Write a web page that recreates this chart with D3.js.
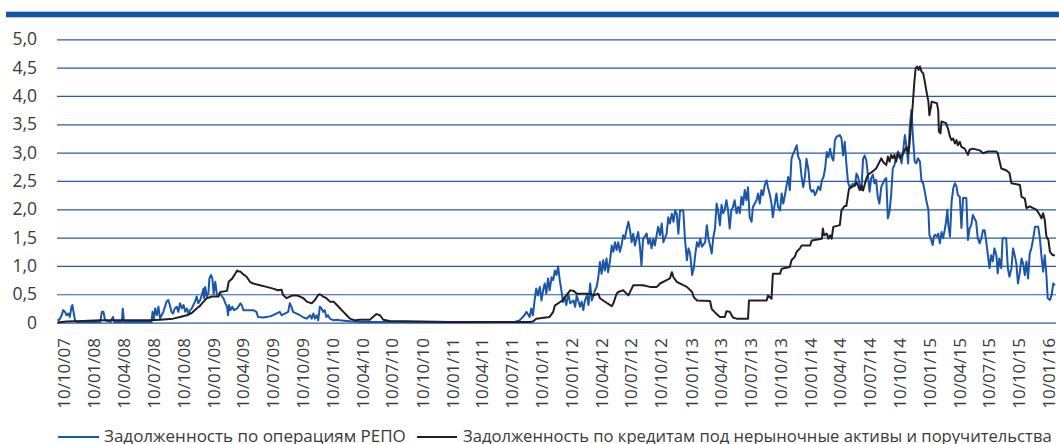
<!DOCTYPE html>
<html><head><meta charset="utf-8">
<script src="https://cdn.jsdelivr.net/npm/d3@7"></script>
<style>
body{margin:0;background:#fff}
svg{display:block}
text{font-family:"Open Sans",sans-serif;fill:#3a3a3a}
</style>
</head><body>
<svg id="chart" width="1059" height="444"></svg>
<script>
const xTickLabels = ["10/10/07","10/01/08","10/04/08","10/07/08","10/10/08","10/01/09","10/04/09","10/07/09","10/10/09","10/01/10","10/04/10","10/07/10","10/10/10","10/01/11","10/04/11","10/07/11","10/10/11","10/01/12","10/04/12","10/07/12","10/10/12","10/01/13","10/04/13","10/07/13","10/10/13","10/01/14","10/04/14","10/07/14","10/10/14","10/01/15","10/04/15","10/07/15","10/10/15","10/01/16"];
const yTickValues = [0,0.5,1,1.5,2,2.5,3,3.5,4,4.5,5];
const yTickLabels = ["0","0,5","1,0","1,5","2,0","2,5","3,0","3,5","4,0","4,5","5,0"];
const legendLabels = ["Задолженность по операциям РЕПО","Задолженность по кредитам под нерыночные активы и поручительства"];

const repoSeries = [["2007-09-26",0.04],["2007-10-02",0.05],["2007-10-09",0.13],["2007-10-14",0.22],["2007-10-19",0.19],["2007-10-24",0.13],["2007-10-29",0.16],["2007-11-03",0.10],["2007-11-08",0.28],["2007-11-11",0.31],["2007-11-15",0.16],["2007-11-19",0.04],["2007-11-24",0.01],
["2008-02-04",0.01],["2008-02-09",0.19],["2008-02-14",0.19],["2008-02-19",0.04],["2008-03-06",0.01],["2008-03-14",0.10],["2008-03-18",0.01],["2008-04-10",0.01],["2008-04-13",0.25],["2008-04-17",0.01],["2008-07-10",0.01],["2008-07-13",0.19],["2008-07-17",0.07],["2008-07-21",0.25],["2008-07-26",0.13],["2008-07-31",0.28],["2008-08-05",0.07],["2008-08-10",0.13],["2008-08-15",0.19],["2008-08-20",0.28],["2008-08-25",0.37],["2008-08-30",0.40],["2008-09-04",0.31],["2008-09-09",0.19],["2008-09-14",0.16],["2008-09-19",0.25],["2008-09-25",0.28],["2008-09-30",0.19],["2008-10-05",0.34],["2008-10-11",0.25],["2008-10-16",0.31],["2008-10-21",0.19],["2008-10-26",0.25],["2008-10-31",0.16],["2008-11-05",0.22],["2008-11-10",0.25],["2008-11-15",0.31],["2008-11-20",0.37],["2008-11-25",0.46],["2008-11-30",0.34],["2008-12-06",0.40],["2008-12-11",0.49],["2008-12-16",0.60],["2008-12-18",0.43],["2008-12-21",0.63],["2008-12-26",0.46],["2008-12-31",0.52],["2009-01-03",0.78],["2009-01-08",0.84],["2009-01-12",0.78],["2009-01-16",0.51],["2009-01-21",0.72],["2009-01-26",0.49],["2009-02-05",0.51],["2009-02-11",0.46],["2009-02-15",0.43],["2009-02-21",0.34],["2009-02-26",0.28],["2009-03-01",0.13],["2009-03-04",0.31],["2009-03-08",0.22],["2009-03-14",0.28],["2009-03-19",0.22],["2009-03-29",0.25],["2009-04-08",0.34],["2009-04-12",0.31],["2009-04-17",0.22],["2009-04-27",0.22],["2009-05-07",0.22],["2009-05-17",0.22],["2009-05-27",0.19],["2009-06-01",0.10],["2009-06-17",0.09],["2009-06-27",0.10],["2009-07-07",0.11],["2009-07-17",0.13],["2009-07-27",0.16],["2009-08-06",0.19],["2009-08-12",0.13],["2009-08-22",0.16],["2009-09-01",0.19],["2009-09-06",0.34],["2009-09-11",0.28],["2009-09-16",0.19],["2009-09-27",0.16],["2009-10-07",0.13],["2009-10-18",0.09],["2009-10-28",0.07],["2009-11-07",0.13],["2009-11-12",0.07],["2009-11-17",0.16],["2009-11-22",0.07],["2009-11-27",0.13],["2009-12-02",0.04],["2009-12-07",0.28],["2009-12-12",0.25],["2009-12-17",0.19],["2009-12-22",0.22],["2009-12-27",0.10],["2010-01-01",0.13],["2010-01-07",0.07],["2010-01-18",0.04],["2010-01-28",0.05],["2010-02-07",0.04],["2010-02-27",0.03],["2010-03-19",0.02],["2010-04-09",0.01],["2010-08-08",0.01],["2011-01-10",0.005],["2011-06-10",0.01],["2011-07-26",0.01],["2011-08-10",0.04],["2011-08-25",0.13],["2011-08-31",0.19],["2011-09-10",0.10],["2011-09-15",0.25],["2011-09-20",0.13],["2011-09-25",0.39],["2011-09-30",0.60],["2011-10-05",0.48],["2011-10-11",0.63],["2011-10-16",0.39],["2011-10-21",0.57],["2011-10-26",0.69],["2011-10-31",0.51],["2011-11-05",0.78],["2011-11-10",0.57],["2011-11-16",0.80],["2011-11-21",0.75],["2011-11-26",0.92],["2011-12-01",0.84],["2011-12-06",0.99],["2011-12-11",0.75],["2011-12-16",0.57],["2011-12-21",0.36],["2011-12-26",0.45],["2011-12-31",0.31],["2012-01-06",0.51],["2012-01-12",0.34],["2012-01-22",0.39],["2012-01-27",0.28],["2012-02-01",0.48],["2012-02-11",0.28],["2012-02-16",0.37],["2012-02-21",0.22],["2012-02-26",0.39],["2012-03-03",0.48],["2012-03-08",0.31],["2012-03-13",0.69],["2012-03-18",0.39],["2012-03-23",0.48],["2012-03-28",0.57],["2012-04-02",0.63],["2012-04-07",0.80],["2012-04-12",1.07],["2012-04-17",0.86],["2012-04-22",1.10],["2012-04-27",0.92],["2012-05-02",1.13],["2012-05-07",0.89],["2012-05-13",1.10],["2012-05-18",1.36],["2012-05-23",1.25],["2012-05-28",1.42],["2012-06-02",1.28],["2012-06-07",1.42],["2012-06-12",1.25],["2012-06-17",1.36],["2012-06-22",1.54],["2012-06-27",1.48],["2012-07-02",1.63],["2012-07-08",1.78],["2012-07-13",1.63],["2012-07-18",1.42],["2012-07-23",1.57],["2012-07-28",1.36],["2012-08-02",1.48],["2012-08-07",1.60],["2012-08-12",1.36],["2012-08-17",1.01],["2012-08-22",1.48],["2012-09-02",1.57],["2012-09-07",1.39],["2012-09-12",1.48],["2012-09-17",1.31],["2012-09-22",1.48],["2012-09-27",1.36],["2012-10-07",1.69],["2012-10-13",1.54],["2012-10-18",1.75],["2012-10-23",1.42],["2012-11-02",1.57],["2012-11-07",1.86],["2012-11-12",1.75],["2012-11-18",1.92],["2012-11-23",1.78],["2012-11-28",1.98],["2012-12-03",1.92],["2012-12-08",1.57],["2012-12-13",1.98],["2012-12-23",1.98],["2012-12-28",1.48],["2013-01-03",1.10],["2013-01-08",1.31],["2013-01-13",1.22],["2013-01-19",0.84],["2013-01-24",0.96],["2013-01-29",1.22],["2013-02-03",1.42],["2013-02-08",1.34],["2013-02-13",1.48],["2013-02-18",1.34],["2013-02-28",1.42],["2013-03-05",1.72],["2013-03-10",1.48],["2013-03-15",1.36],["2013-03-20",1.22],["2013-03-25",1.51],["2013-03-30",1.66],["2013-04-04",2.10],["2013-04-09",1.96],["2013-04-14",1.72],["2013-04-19",2.08],["2013-04-24",1.93],["2013-04-29",2.00],["2013-05-04",2.16],["2013-05-09",1.98],["2013-05-14",1.66],["2013-05-19",1.98],["2013-05-24",2.04],["2013-05-29",2.16],["2013-06-04",1.93],["2013-06-09",2.04],["2013-06-14",1.93],["2013-06-19",2.22],["2013-06-24",2.08],["2013-06-29",2.34],["2013-07-04",2.16],["2013-07-09",2.39],["2013-07-14",1.86],["2013-07-20",1.78],["2013-07-24",2.04],["2013-08-04",2.16],["2013-08-09",2.28],["2013-08-14",2.10],["2013-08-19",2.34],["2013-08-24",2.25],["2013-08-29",2.42],["2013-09-04",2.51],["2013-09-08",2.39],["2013-09-13",2.28],["2013-09-19",2.10],["2013-09-23",1.86],["2013-09-29",2.10],["2013-10-04",2.28],["2013-10-09",2.04],["2013-10-15",1.98],["2013-10-20",2.28],["2013-10-25",2.10],["2013-10-30",2.25],["2013-11-04",2.42],["2013-11-09",2.57],["2013-11-14",2.34],["2013-11-19",2.89],["2013-11-24",2.98],["2013-11-29",3.04],["2013-12-05",3.13],["2013-12-10",2.92],["2013-12-15",2.86],["2013-12-20",2.57],["2013-12-25",2.39],["2013-12-30",2.57],["2014-01-04",2.89],["2014-01-10",2.69],["2014-01-15",2.37],["2014-01-20",2.31],["2014-01-25",2.34],["2014-01-30",2.25],["2014-02-04",2.31],["2014-02-09",2.40],["2014-02-15",2.34],["2014-02-20",2.51],["2014-02-25",2.57],["2014-03-02",2.72],["2014-03-07",3.01],["2014-03-12",2.92],["2014-03-17",3.07],["2014-03-22",2.92],["2014-03-27",2.86],["2014-04-01",3.22],["2014-04-06",3.28],["2014-04-16",3.31],["2014-04-21",3.25],["2014-04-26",2.95],["2014-05-01",3.19],["2014-05-06",2.80],["2014-05-11",2.48],["2014-05-16",2.39],["2014-05-26",2.45],["2014-06-01",2.42],["2014-06-06",2.63],["2014-06-11",2.57],["2014-06-16",2.42],["2014-06-21",2.34],["2014-06-26",2.89],["2014-07-01",2.95],["2014-07-06",2.86],["2014-07-11",2.60],["2014-07-16",2.31],["2014-07-21",2.55],["2014-07-26",2.61],["2014-07-31",2.46],["2014-08-05",2.52],["2014-08-10",2.22],["2014-08-15",2.10],["2014-08-21",2.40],["2014-08-26",2.46],["2014-08-31",2.52],["2014-09-05",2.55],["2014-09-10",1.84],["2014-09-15",1.96],["2014-09-20",2.25],["2014-09-25",2.72],["2014-09-30",2.78],["2014-10-05",2.90],["2014-10-11",3.02],["2014-10-17",2.96],["2014-10-22",2.81],["2014-10-27",3.05],["2014-11-01",3.31],["2014-11-06",3.10],["2014-11-11",2.81],["2014-11-16",3.46],["2014-11-21",3.75],["2014-11-26",3.25],["2014-12-01",2.84],["2014-12-06",2.81],["2014-12-11",2.90],["2014-12-17",2.84],["2014-12-22",2.49],["2014-12-27",2.46],["2015-01-01",2.31],["2015-01-06",2.14],["2015-01-12",1.99],["2015-01-15",1.55],["2015-01-19",1.49],["2015-01-25",1.37],["2015-01-29",1.52],["2015-02-01",1.55],["2015-02-07",1.52],["2015-02-11",1.57],["2015-02-16",1.40],["2015-02-21",1.60],["2015-02-26",1.49],["2015-03-03",1.64],["2015-03-07",1.78],["2015-03-11",1.99],["2015-03-14",1.72],["2015-03-19",1.52],["2015-03-24",2.14],["2015-03-29",2.37],["2015-04-03",2.46],["2015-04-08",2.40],["2015-04-12",2.25],["2015-04-18",2.22],["2015-04-23",1.67],["2015-04-28",2.20],["2015-05-08",2.20],["2015-05-13",1.46],["2015-05-18",1.66],["2015-05-23",1.72],["2015-05-28",1.90],["2015-06-02",1.84],["2015-06-07",1.78],["2015-06-12",1.49],["2015-06-18",1.40],["2015-06-23",1.49],["2015-06-28",1.63],["2015-07-03",1.63],["2015-07-08",1.43],["2015-07-13",1.19],["2015-07-18",0.96],["2015-07-23",1.19],["2015-07-28",1.08],["2015-08-02",1.31],["2015-08-08",1.19],["2015-08-12",0.87],["2015-08-17",1.13],["2015-08-23",0.96],["2015-08-27",1.49],["2015-09-07",1.49],["2015-09-12",0.96],["2015-09-17",0.81],["2015-09-23",0.96],["2015-09-28",1.31],["2015-10-03",1.19],["2015-10-08",1.04],["2015-10-13",0.69],["2015-10-19",0.90],["2015-10-24",1.13],["2015-10-29",1.04],["2015-11-03",0.84],["2015-11-08",1.08],["2015-11-13",0.78],["2015-11-18",1.22],["2015-11-23",1.31],["2015-11-28",1.46],["2015-12-04",1.69],["2015-12-14",1.69],["2015-12-19",1.49],["2015-12-24",1.17],["2015-12-29",0.90],["2016-01-03",1.19],["2016-01-08",0.84],["2016-01-12",0.43],["2016-01-19",0.40],["2016-01-24",0.49],["2016-01-29",0.69],["2016-02-03",0.66]];

const creditSeries = [["2007-09-26",0.00],["2007-10-24",0.02],["2007-12-14",0.03],["2008-02-04",0.04],["2008-05-15",0.04],["2008-07-06",0.04],["2008-08-05",0.05],["2008-08-25",0.06],["2008-09-14",0.07],["2008-10-05",0.10],["2008-10-26",0.13],["2008-11-10",0.17],["2008-11-25",0.25],["2008-12-06",0.30],["2008-12-16",0.37],["2008-12-26",0.43],["2009-01-11",0.46],["2009-01-31",0.46],["2009-02-05",0.54],["2009-02-26",0.56],["2009-03-03",0.72],["2009-03-14",0.78],["2009-03-24",0.87],["2009-03-29",0.92],["2009-04-02",0.90],["2009-04-08",0.90],["2009-04-17",0.85],["2009-04-27",0.81],["2009-05-07",0.72],["2009-05-17",0.69],["2009-06-07",0.66],["2009-06-27",0.63],["2009-07-17",0.60],["2009-08-01",0.57],["2009-08-12",0.58],["2009-08-16",0.49],["2009-08-27",0.43],["2009-09-06",0.46],["2009-09-16",0.48],["2009-09-27",0.48],["2009-10-07",0.46],["2009-10-18",0.43],["2009-10-28",0.37],["2009-11-12",0.34],["2009-11-22",0.40],["2009-12-02",0.49],["2009-12-07",0.50],["2009-12-17",0.46],["2009-12-27",0.43],["2010-01-07",0.37],["2010-01-18",0.37],["2010-01-28",0.31],["2010-02-07",0.25],["2010-02-17",0.19],["2010-02-27",0.13],["2010-03-09",0.07],["2010-03-25",0.04],["2010-04-09",0.05],["2010-05-09",0.05],["2010-05-29",0.15],["2010-06-09",0.13],["2010-06-19",0.05],["2010-07-09",0.03],["2010-10-09",0.02],["2011-01-10",0.01],["2011-08-10",0.01],["2011-09-10",0.01],["2011-09-20",0.02],["2011-09-30",0.07],["2011-11-10",0.10],["2011-11-21",0.19],["2011-11-26",0.30],["2011-12-11",0.36],["2011-12-21",0.40],["2011-12-31",0.48],["2012-01-12",0.57],["2012-01-22",0.56],["2012-02-01",0.51],["2012-02-11",0.51],["2012-03-13",0.51],["2012-03-23",0.48],["2012-04-07",0.51],["2012-04-12",0.43],["2012-05-02",0.35],["2012-05-18",0.29],["2012-05-23",0.34],["2012-06-02",0.51],["2012-06-07",0.54],["2012-06-22",0.57],["2012-07-08",0.48],["2012-07-23",0.66],["2012-08-22",0.66],["2012-09-12",0.63],["2012-10-03",0.63],["2012-10-13",0.69],["2012-11-02",0.75],["2012-11-12",0.78],["2012-11-18",0.89],["2012-11-23",0.80],["2012-12-03",0.72],["2012-12-23",0.66],["2013-01-03",0.63],["2013-01-19",0.54],["2013-01-24",0.45],["2013-02-03",0.39],["2013-03-15",0.38],["2013-03-20",0.24],["2013-03-30",0.18],["2013-04-14",0.10],["2013-04-29",0.10],["2013-05-04",0.20],["2013-05-14",0.19],["2013-05-24",0.09],["2013-06-04",0.07],["2013-07-09",0.07],["2013-07-12",0.39],["2013-09-04",0.39],["2013-09-08",0.48],["2013-09-19",0.42],["2013-09-23",0.86],["2013-10-15",0.86],["2013-10-20",0.95],["2013-11-14",0.98],["2013-11-19",1.10],["2013-11-29",1.16],["2013-12-05",1.25],["2013-12-15",1.31],["2013-12-20",1.36],["2014-01-15",1.36],["2014-01-20",1.45],["2014-02-20",1.48],["2014-02-23",1.66],["2014-02-27",1.54],["2014-03-07",1.57],["2014-03-12",1.48],["2014-03-17",1.54],["2014-03-22",1.48],["2014-03-27",1.69],["2014-04-16",1.72],["2014-04-21",1.98],["2014-05-01",2.06],["2014-05-06",2.06],["2014-05-14",2.36],["2014-05-22",2.39],["2014-06-01",2.42],["2014-06-06",2.48],["2014-06-16",2.34],["2014-06-21",2.42],["2014-06-26",2.33],["2014-07-06",2.54],["2014-07-11",2.61],["2014-07-26",2.67],["2014-08-05",2.72],["2014-08-21",2.90],["2014-08-26",2.84],["2014-09-05",2.78],["2014-09-10",2.93],["2014-09-15",2.84],["2014-09-20",2.96],["2014-09-25",2.90],["2014-09-30",2.96],["2014-10-05",2.84],["2014-10-11",2.99],["2014-10-17",2.90],["2014-10-27",2.99],["2014-11-06",3.10],["2014-11-11",2.99],["2014-11-14",3.08],["2014-11-19",3.43],["2014-11-25",3.84],["2014-11-30",4.25],["2014-12-04",4.49],["2014-12-09",4.52],["2014-12-13",4.46],["2014-12-17",4.52],["2014-12-22",4.43],["2014-12-27",4.40],["2015-01-01",4.25],["2015-01-06",4.08],["2015-01-12",3.90],["2015-01-15",3.66],["2015-01-19",3.78],["2015-01-22",3.90],["2015-02-07",3.87],["2015-02-11",3.75],["2015-02-13",3.37],["2015-02-18",3.34],["2015-02-21",3.55],["2015-03-07",3.52],["2015-03-14",3.40],["2015-03-19",3.28],["2015-03-24",3.22],["2015-03-29",3.25],["2015-04-03",3.16],["2015-04-08",3.22],["2015-04-12",3.13],["2015-04-18",3.19],["2015-04-23",3.10],["2015-05-03",3.07],["2015-05-13",2.96],["2015-05-18",3.05],["2015-05-28",3.07],["2015-06-18",3.04],["2015-06-28",2.99],["2015-07-13",3.02],["2015-08-08",3.02],["2015-08-12",2.99],["2015-08-23",2.72],["2015-09-07",2.69],["2015-09-17",2.64],["2015-09-23",2.46],["2015-10-19",2.43],["2015-10-24",2.22],["2015-11-03",2.19],["2015-11-08",2.02],["2015-11-18",2.05],["2015-12-09",1.99],["2015-12-19",1.90],["2015-12-24",1.84],["2015-12-29",1.93],["2016-01-03",1.81],["2016-01-08",1.52],["2016-01-14",1.46],["2016-01-19",1.25],["2016-01-27",1.19],["2016-02-03",1.19]];

const svg = d3.select("#chart");
const parseDate = d3.timeParse("%Y-%m-%d");
const parseTick = d3.timeParse("%d/%m/%y");
const tickDates = xTickLabels.map(parseTick);

const x = d3.scaleTime().domain([tickDates[0], tickDates[tickDates.length-1]]).range([62, 1047.05]);
const y = d3.scaleLinear().domain([0, 5]).range([322.6, 39.3]);
const plotLeft = 57, plotRight = 1056;
const font = '"Open Sans", sans-serif';

// top band
svg.append("rect").attr("x", 6).attr("y", 11.7).attr("width", 1053).attr("height", 5.6).attr("fill", "#1356a5");

// y axis with gridlines
const yAxis = svg.append("g").attr("transform", `translate(${plotLeft},0)`)
  .call(d3.axisLeft(y).tickValues(yTickValues).tickFormat((d,i) => yTickLabels[i])
    .tickSize(-(plotRight - plotLeft)).tickPadding(20));
yAxis.select(".domain").remove();
yAxis.selectAll(".tick line").attr("stroke", "#2a5ba8").attr("stroke-width", 1.2);
yAxis.selectAll(".tick text").attr("font-size", 17.5).attr("fill", "#3a3a3a").style("font-family", font);

// x axis labels (rotated)
const xAxis = svg.append("g")
  .call(d3.axisBottom(x).tickValues(tickDates).tickFormat((d,i) => xTickLabels[i]).tickSize(0));
xAxis.select(".domain").remove();
xAxis.selectAll(".tick text")
  .attr("transform", "rotate(-90)")
  .attr("x", -338).attr("y", 0).attr("dy", "0.46em")
  .attr("text-anchor", "end")
  .attr("font-size", 17).attr("fill", "#3a3a3a").style("font-family", font);

// lines
const line = d3.line().x(d => x(parseDate(d[0]))).y(d => y(d[1]));
svg.append("path").datum(repoSeries).attr("d", line)
  .attr("fill", "none").attr("stroke", "#1b56a8").attr("stroke-width", 2).attr("stroke-linejoin", "round");
svg.append("path").datum(creditSeries).attr("d", line)
  .attr("fill", "none").attr("stroke", "#231f20").attr("stroke-width", 2).attr("stroke-linejoin", "round");

// legend
const leg = svg.append("g");
leg.append("line").attr("x1", 58).attr("x2", 99).attr("y1", 437).attr("y2", 437).attr("stroke", "#1b56a8").attr("stroke-width", 2);
leg.append("text").attr("x", 104).attr("y", 441.5).attr("font-size", 17).text(legendLabels[0]);
leg.append("line").attr("x1", 417).attr("x2", 457).attr("y1", 437).attr("y2", 437).attr("stroke", "#231f20").attr("stroke-width", 2);
leg.append("text").attr("x", 463).attr("y", 441.5).attr("font-size", 16.6).text(legendLabels[1]);
</script>
</body></html>
